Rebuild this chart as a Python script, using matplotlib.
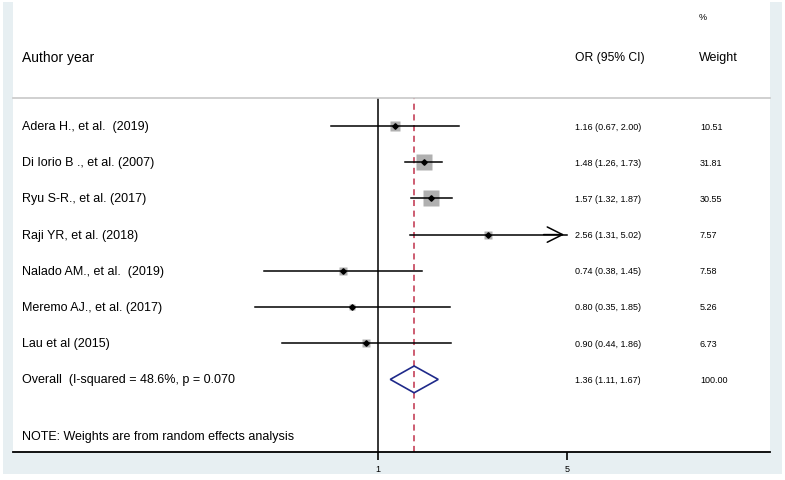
import matplotlib.pyplot as plt
import matplotlib.patches as mpatches
import numpy as np

# data
studies = ["Adera H., et al.  (2019)", "Di Iorio B ., et al. (2007)", "Ryu S-R., et al. (2017)",
           "Raji YR, et al. (2018)", "Nalado AM., et al.  (2019)", "Meremo AJ., et al. (2017)",
           "Lau et al (2015)"]
odds = [1.16, 1.48, 1.57, 2.56, 0.74, 0.80, 0.90]
lower = [0.67, 1.26, 1.32, 1.31, 0.38, 0.35, 0.44]
upper = [2.00, 1.73, 1.87, 5.02, 1.45, 1.85, 1.86]
weights = [10.51, 31.81, 30.55, 7.57, 7.58, 5.26, 6.73]
overall_label = "Overall  (I-squared = 48.6%, p = 0.070"
overall = [1.36, 1.11, 1.67]
overall_weight = 100.00
x_ticks = [1, 5]

W, H = 785, 481
plt.rcParams['font.family'] = ['Liberation Sans', 'DejaVu Sans']
fig = plt.figure(figsize=(W / 100, H / 100), dpi=100)
fig.patch.set_facecolor('white')

def fx(px):
    return px / W

def fy(py):
    return 1 - py / H

# light blue frame with white plot region
fig.patches.append(mpatches.Rectangle((fx(3), fy(475)), fx(779), 472 / H, transform=fig.transFigure,
                                      facecolor='#e7eff2', edgecolor='none', zorder=0))
fig.patches.append(mpatches.Rectangle((fx(13), fy(453)), fx(757), 453 / H, transform=fig.transFigure,
                                      facecolor='white', edgecolor='none', zorder=0))

# forest axes: x log scale, rows on y
ax = fig.add_axes([fx(13), fy(453), fx(757), (453 - 99) / H])
ax.set_zorder(3)
ax.set_facecolor('none')
scale = 189 / np.log(5)
ax.set_xscale('log')
ax.set_xlim(np.exp((13 - 378) / scale), np.exp((770 - 378) / scale))
row_h = 36.2
ax.set_ylim((453 - 127) / row_h, (99 - 127) / row_h)

xmax_ci = 5.0
for i in range(len(studies)):
    hi = min(upper[i], xmax_ci)
    ax.plot([lower[i], hi], [i, i], color='black', lw=1.1, zorder=3)
    if upper[i] > xmax_ci:
        ax.annotate('', xy=(hi, i), xytext=(hi * 0.8, i),
                    arrowprops=dict(arrowstyle='->,head_length=1.1,head_width=0.55', color='black', lw=1.1))
    side = 2.9 * np.sqrt(weights[i])  # box side in px
    ax.plot(odds[i], i, marker='s', ms=side * 0.72, color='#b0b0b0', mec='none', zorder=2)
    ax.plot(odds[i], i, marker='D', ms=2.8, color='black', zorder=4)

# overall diamond
k = len(studies)
diamond = mpatches.Polygon([[overall[1], k], [overall[0], k - 0.37], [overall[2], k], [overall[0], k + 0.37]],
                           closed=True, fill=False, edgecolor='#1f2a8a', lw=1.2, zorder=3)
ax.add_patch(diamond)

ax.axvline(1, color='black', lw=1.1, zorder=1)
ax.axvline(overall[0], color='#c0304a', lw=1.1, ls=(0, (4, 3)), zorder=1)

for s in ['left', 'right']:
    ax.spines[s].set_visible(False)
ax.spines['top'].set_color('#c8c8c8')
ax.spines['top'].set_linewidth(1.2)
ax.spines['bottom'].set_linewidth(1.3)
ax.set_yticks([])
ax.set_xticks(x_ticks)
ax.set_xticklabels([str(t) for t in x_ticks])
ax.xaxis.set_minor_locator(plt.NullLocator())
ax.tick_params(axis='x', length=6, width=1.2, labelsize=6.5, pad=3)

# header text
fig.text(fx(22), fy(58), "Author year", fontsize=10, va='center', ha='left')
fig.text(fx(575), fy(58), "OR (95% CI)", fontsize=8.7, va='center', ha='left')
fig.text(fx(699), fy(58), "Weight", fontsize=9, va='center', ha='left')
fig.text(fx(699), fy(18), "%", fontsize=6.5, va='center', ha='left')

for i in range(k):
    ypx = 127 + row_h * i
    fig.text(fx(22), fy(ypx), studies[i], fontsize=9, va='center', ha='left')
    fig.text(fx(575), fy(ypx), f"{odds[i]:.2f} ({lower[i]:.2f}, {upper[i]:.2f})", fontsize=6.5, va='center', ha='left')
    fig.text(fx(700), fy(ypx), f"{weights[i]:.2f}", fontsize=6.5, va='center', ha='left')

ypx = 127 + row_h * k
fig.text(fx(22), fy(ypx), overall_label, fontsize=9, va='center', ha='left')
fig.text(fx(575), fy(ypx), f"{overall[0]:.2f} ({overall[1]:.2f}, {overall[2]:.2f})", fontsize=6.5, va='center', ha='left')
fig.text(fx(700), fy(ypx), f"{overall_weight:.2f}", fontsize=6.5, va='center', ha='left')

fig.text(fx(22), fy(437), "NOTE: Weights are from random effects analysis", fontsize=9, va='center', ha='left')

fig.savefig("out.png", dpi=100)
